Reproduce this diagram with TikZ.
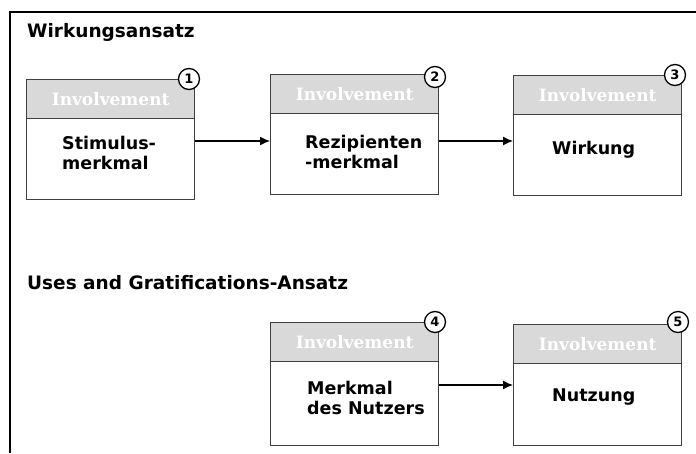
\documentclass[tikz,border=0pt]{standalone}
\usepackage{fontspec}
\setmainfont{DejaVu Sans}
\newfontfamily\headfont{DejaVu Serif}
\usetikzlibrary{arrows.meta}

\tikzset{
  frame/.style={line width=2pt, black},
  boxbody/.style={draw=black!75, line width=1.3pt, fill=white, anchor=north west,
    minimum width=168pt, minimum height=120pt, inner sep=0pt},
  boxhead/.style={draw=black!75, line width=1.3pt, fill=black!15, anchor=north west,
    minimum width=168pt, minimum height=39pt, inner sep=0pt,
    text=white, font=\headfont\bfseries\fontsize{17}{20}\selectfont},
  bodytext/.style={anchor=west, align=left, inner sep=0pt,
    font=\bfseries\fontsize{17.5}{20}\selectfont},
  title/.style={anchor=west, inner sep=0pt, font=\bfseries\fontsize{18.5}{22}\selectfont},
  badge/.style={circle, draw=black, line width=1.3pt, fill=white, minimum size=21pt,
    inner sep=0pt, font=\bfseries\fontsize{13}{14}\selectfont},
  arr/.style={-{Latex[length=10pt,width=9pt]}, line width=1.3pt, black},
}

\begin{document}
\begin{tikzpicture}[x=1pt, y=-1pt]
\useasboundingbox (0,0) rectangle (696,453);

% open frame: top and left edge
\draw[frame] (10,453) -- (10,12) -- (696,12);

% section titles
\node[title] (t1) at (27,32) {Wirkungsansatz};
\node[title] (t2) at (27,283) {Uses and Gratifications-Ansatz};

% boxes of the first row
\node[boxbody] (b1) at (26,79) {};
\node[boxhead] (h1) at (26,79) {Involvement};
\node[boxbody] (b2) at (270,74) {};
\node[boxhead] (h2) at (270,74) {Involvement};
\node[boxbody] (b3) at (513,75) {};
\node[boxhead] (h3) at (513,75) {Involvement};

% boxes of the second row
\node[boxbody, minimum height=123pt] (b4) at (270,322) {};
\node[boxhead] (h4) at (270,322) {Involvement};
\node[boxbody, minimum height=121pt] (b5) at (513,324) {};
\node[boxhead] (h5) at (513,324) {Involvement};

% box contents
\node[bodytext] (m1) at (62,153) {Stimulus-\\merkmal};
\node[bodytext] (m2) at (305,152) {Rezipienten\\-merkmal};
\node[bodytext] (m3) at (552,150) {Wirkung};
\node[bodytext] (m4) at (307,398) {Merkmal\\des Nutzers};
\node[bodytext] (m5) at (552,397) {Nutzung};

% numbered badges
\node[badge] (n1) at (189,79) {1};
\node[badge] (n2) at (435,77) {2};
\node[badge] (n3) at (675,75) {3};
\node[badge] (n4) at (435,322) {4};
\node[badge] (n5) at (678,322) {5};

% connectors
\coordinate (r1) at (0,141);
\coordinate (r2) at (0,385);
\draw[arr] (b1.east |- r1) -- (b2.west |- r1);
\draw[arr] (b2.east |- r1) -- (b3.west |- r1);
\draw[arr] (b4.east |- r2) -- (b5.west |- r2);
\end{tikzpicture}
\end{document}
